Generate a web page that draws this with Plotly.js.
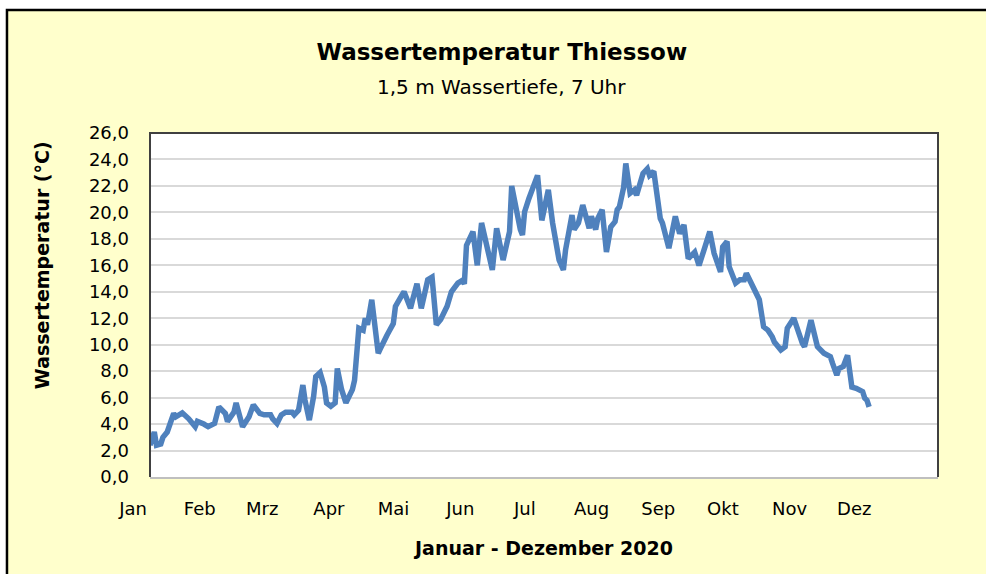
<!DOCTYPE html>
<html>
<head>
<meta charset="utf-8">
<script src="https://cdn.plot.ly/plotly-3.0.1.min.js"></script>
<style>html,body{margin:0;padding:0;background:#fff;}#chart{width:986px;height:574px;}</style>
</head>
<body>
<div id="chart"></div>
<script>
// Messdatum (2020)
const dates = [
 '2020-01-01','2020-01-03','2020-01-04','2020-01-06','2020-01-07','2020-01-09','2020-01-12','2020-01-13',
 '2020-01-16','2020-01-19','2020-01-22','2020-01-23','2020-01-26','2020-01-28','2020-01-31',
 '2020-02-02','2020-02-05','2020-02-06','2020-02-09','2020-02-10','2020-02-13','2020-02-16','2020-02-18',
 '2020-02-20','2020-02-21','2020-02-23','2020-02-26','2020-02-27','2020-02-29',
 '2020-03-02','2020-03-04','2020-03-07','2020-03-08','2020-03-10','2020-03-12','2020-03-13','2020-03-15',
 '2020-03-17','2020-03-18','2020-03-20','2020-03-22','2020-03-23','2020-03-25','2020-03-27','2020-03-28','2020-03-30',
 '2020-04-01','2020-04-04','2020-04-05','2020-04-07','2020-04-09','2020-04-10','2020-04-11','2020-04-13',
 '2020-04-16','2020-04-17','2020-04-18','2020-04-20','2020-04-21','2020-04-23','2020-04-24','2020-04-25',
 '2020-04-27','2020-04-28',
 '2020-05-01','2020-05-02','2020-05-04','2020-05-06','2020-05-09','2020-05-11','2020-05-12','2020-05-13',
 '2020-05-15','2020-05-18','2020-05-20','2020-05-23','2020-05-25','2020-05-26','2020-05-27','2020-05-30',
 '2020-06-01','2020-06-03','2020-06-08','2020-06-10','2020-06-13','2020-06-16','2020-06-17','2020-06-19',
 '2020-06-21','2020-06-22','2020-06-23','2020-06-25','2020-06-26','2020-06-29',
 '2020-07-01','2020-07-04','2020-07-06','2020-07-08','2020-07-09','2020-07-11','2020-07-12','2020-07-15',
 '2020-07-16','2020-07-18','2020-07-20','2020-07-23','2020-07-24','2020-07-26','2020-07-27','2020-07-29','2020-07-31',
 '2020-08-02','2020-08-04','2020-08-05','2020-08-06','2020-08-08','2020-08-09','2020-08-11','2020-08-13',
 '2020-08-14','2020-08-16','2020-08-17','2020-08-19','2020-08-20','2020-08-22','2020-08-24','2020-08-25',
 '2020-08-26','2020-08-29',
 '2020-09-01','2020-09-03','2020-09-05','2020-09-07','2020-09-10','2020-09-12','2020-09-14','2020-09-17',
 '2020-09-19','2020-09-22','2020-09-23','2020-09-25','2020-09-26','2020-09-29',
 '2020-10-01','2020-10-03','2020-10-04','2020-10-08','2020-10-09','2020-10-10','2020-10-12','2020-10-14',
 '2020-10-16','2020-10-17','2020-10-20','2020-10-22','2020-10-23','2020-10-26','2020-10-30','2020-10-31',
 '2020-11-03','2020-11-05','2020-11-06','2020-11-09','2020-11-12','2020-11-13','2020-11-15','2020-11-16',
 '2020-11-18','2020-11-20','2020-11-22','2020-11-24','2020-11-27','2020-11-28','2020-11-29','2020-11-30'
];
// Wassertemperatur in °C
const temps = [
 2.4,3.4,2.4,2.5,3.0,3.4,4.8,4.55,
 4.85,4.4,3.8,4.2,4.0,3.8,4.05,
 5.3,4.8,4.2,4.9,5.6,3.8,4.55,5.45,
 5.1,4.8,4.7,4.7,4.4,4.05,
 4.7,4.9,4.9,4.7,5.05,6.95,5.8,4.3,
 6.1,7.6,7.9,6.8,5.6,5.35,5.6,8.2,6.6,
 5.6,6.6,7.3,11.25,11.1,12.0,11.5,13.4,
 9.35,9.7,10.1,10.7,11.0,11.6,12.9,13.25,
 13.75,14.0,
 12.75,13.4,14.6,12.75,14.9,15.1,13.1,11.5,
 11.9,12.9,14.0,14.65,14.85,14.6,17.5,18.55,
 16.0,19.2,15.65,18.8,16.4,18.55,22.0,20.2,
 18.7,18.3,20.05,21.05,21.45,22.8,
 19.4,21.7,19.2,17.15,16.4,15.65,17.15,19.8,
 18.7,19.2,20.55,18.8,19.7,18.7,19.55,20.2,17.0,
 18.9,19.3,20.2,20.4,21.9,23.7,21.45,21.7,
 21.3,22.7,22.95,23.3,22.8,23.1,20.4,19.55,
 19.2,17.3,
 19.7,18.4,19.05,16.5,17.0,16.0,17.0,18.55,
 16.9,15.5,17.4,17.8,15.9,14.65,
 14.9,14.9,15.4,14.0,13.6,13.4,11.35,11.1,
 10.6,10.2,9.6,9.85,11.25,12.0,10.1,9.85,
 11.85,10.35,9.85,9.35,9.1,8.6,7.7,8.2,
 8.35,9.2,6.8,6.7,6.45,5.95,5.8,5.3
];
// Monatsbeschriftung
const monthStarts = ['2020-01-01','2020-02-01','2020-03-01','2020-04-01','2020-05-01','2020-06-01',
                     '2020-07-01','2020-08-01','2020-09-01','2020-10-01','2020-11-01','2020-12-01'];
const monthLabels = ['Jan','Feb','Mrz','Apr','Mai','Jun','Jul','Aug','Sep','Okt','Nov','Dez'];
const yTicks = [0,2,4,6,8,10,12,14,16,18,20,22,24,26];

const FONT = 'DejaVu Sans, sans-serif';

const trace = {
  type: 'scatter', mode: 'lines',
  x: dates, y: temps,
  line: {color: '#4F81BD', width: 5.5},
  hoverinfo: 'x+y', showlegend: false
};

const layout = {
  width: 986, height: 574,
  margin: {l: 150, r: 48, t: 133, b: 97},
  paper_bgcolor: '#ffffff',
  plot_bgcolor: 'rgba(0,0,0,0)',
  separators: ',.',
  font: {family: FONT, size: 18, color: '#000'},
  title: {
    text: '<b>Wassertemperatur Thiessow</b>',
    font: {family: FONT, size: 23, color: '#000'},
    x: 0.509, xref: 'container', xanchor: 'center',
    y: 0.909, yref: 'container', yanchor: 'middle'
  },
  xaxis: {
    type: 'date',
    range: ['2020-01-01', '2021-01-01'],
    tickmode: 'array', tickvals: monthStarts, ticktext: monthLabels,
    ticklabelshift: -17, ticklabelstandoff: 14,
    showgrid: false, zeroline: false, ticks: '',
    showline: true, linecolor: '#bfbfbf', linewidth: 2,
    tickfont: {family: FONT, size: 18},
    title: {text: '<b>Januar - Dezember 2020</b>', font: {family: FONT, size: 19}, standoff: 24},
    fixedrange: true
  },
  yaxis: {
    range: [0, 26], tickmode: 'array', tickvals: yTicks, tickformat: '.1f',
    showgrid: true, gridcolor: '#d9d9d9', gridwidth: 2,
    zeroline: false, ticks: '', ticklabelstandoff: 20,
    showline: false,
    tickfont: {family: FONT, size: 18},
    fixedrange: true
  },
  shapes: [
    {type: 'rect', xref: 'paper', yref: 'paper', x0: -0.1815, x1: 1.5, y0: -0.5, y1: 1.3576,
     fillcolor: '#FFFFCC', line: {color: '#000', width: 2.5}, layer: 'below'},
    {type: 'rect', xref: 'paper', yref: 'paper', x0: 0, x1: 1, y0: 0, y1: 1,
     fillcolor: '#ffffff', line: {width: 0}, layer: 'below'},
    {type: 'path', xref: 'paper', yref: 'paper', path: 'M0,0 L0,1 L1,1 L1,0',
     line: {color: '#404040', width: 2}, layer: 'above'}
  ],
  annotations: [
    {text: '1,5 m Wassertiefe, 7 Uhr', xref: 'paper', yref: 'paper',
     x: 0.4467, y: 1.134, showarrow: false, xanchor: 'center', yanchor: 'middle',
     font: {family: FONT, size: 20, color: '#000'}},
    {text: '<b>Wassertemperatur (°C)</b>', xref: 'paper', yref: 'paper',
     x: -0.137, y: 0.616, textangle: -90, showarrow: false,
     font: {family: FONT, size: 19, color: '#000'}, xanchor: 'center', yanchor: 'middle'}
  ]
};

Plotly.newPlot('chart', [trace], layout, {displayModeBar: false, staticPlot: true});
</script>
</body>
</html>
